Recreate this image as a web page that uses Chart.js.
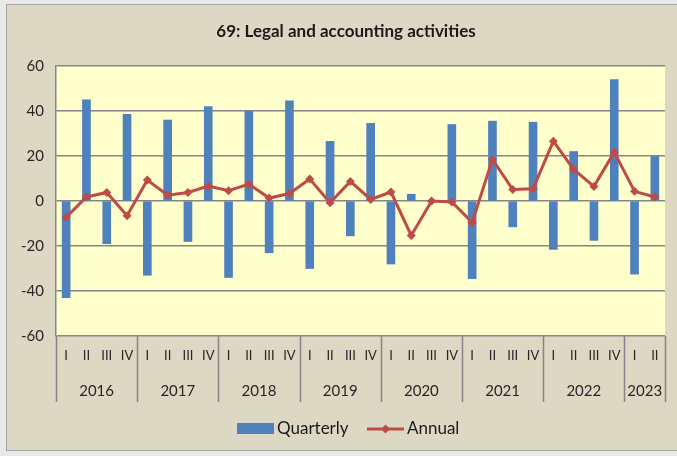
<!DOCTYPE html>
<html>
<head>
<meta charset="utf-8">
<script src="https://cdn.jsdelivr.net/npm/chart.js@4/dist/chart.umd.min.js"></script>
<style>
  html, body { margin: 0; padding: 0; background: #e9e9e9; }
  #wrap { width: 677px; height: 456px; position: relative; }
</style>
</head>
<body>
<div id="wrap"><canvas id="c" width="677" height="456"></canvas></div>
<script>
const years = ["2016", "2017", "2018", "2019", "2020", "2021", "2022", "2023"];
const quarterNames = ["I", "II", "III", "IV"];
const quarterly = [
  -43, 45, -19, 38.5,
  -33, 36, -18, 42,
  -34, 40, -23, 44.5,
  -30, 26.5, -15.5, 34.5,
  -28, 3, 0, 34,
  -34.5, 35.5, -11.5, 35,
  -21.5, 22, -17.5, 54,
  -32.5, 19.8
];
const annual = [
  -7.2, 1.8, 3.8, -6.5,
  9.3, 2.6, 3.8, 6.6,
  4.6, 7.5, 1.3, 3.3,
  9.8, -0.8, 8.7, 0.7,
  4, -15.3, 0, -0.4,
  -9.5, 18.5, 5.1, 5.4,
  26.6, 14, 6.5, 21.7,
  4.3, 1.8
];
const title = "69: Legal and accounting activities";
const seriesNames = ["Quarterly", "Annual"];

// build category list (quarter label, year)
const labels = [];
const yearOf = [];
for (let i = 0; i < quarterly.length; i++) {
  labels.push(quarterNames[i % 4]);
  yearOf.push(years[Math.floor(i / 4)]);
}

const FONT = "Lato, 'Open Sans', sans-serif";
const BAR = "#4F81BD";
const LINE = "#BE4B48";
const GRID = "#868686";

const decor = {
  id: "decor",
  beforeDraw(chart) {
    const ctx = chart.ctx;
    ctx.save();
    ctx.fillStyle = "#ddd8c4";
    ctx.fillRect(6, 4, 680, 447);
    ctx.strokeStyle = "#a5a5a5";
    ctx.lineWidth = 1;
    ctx.strokeRect(6.5, 4.5, 680, 446);
    const a = chart.chartArea;
    ctx.fillStyle = "#ffffcc";
    ctx.fillRect(a.left, a.top, a.right - a.left, a.bottom - a.top);
    ctx.restore();
  },
  afterDraw(chart) {
    const ctx = chart.ctx;
    const a = chart.chartArea;
    const xs = chart.scales.x;
    ctx.save();
    // title
    ctx.fillStyle = "#1a1a1a";
    ctx.font = "bold 17px " + FONT;
    ctx.textAlign = "center";
    ctx.textBaseline = "middle";
    ctx.fillText(title, 346, 32);

    // year separators and labels
    const half = (xs.getPixelForValue(1) - xs.getPixelForValue(0)) / 2;
    ctx.strokeStyle = GRID;
    ctx.lineWidth = 1.5;
    const bounds = [];
    for (let i = 0; i <= labels.length; i += 4) bounds.push(i);
    if (bounds[bounds.length - 1] !== labels.length) bounds.push(labels.length);
    bounds.forEach(idx => {
      const x = Math.round(xs.getPixelForValue(0) - half + idx * 2 * half) + 0.5;
      ctx.beginPath();
      ctx.moveTo(x, a.bottom);
      ctx.lineTo(x, 402);
      ctx.stroke();
    });
    ctx.fillStyle = "#262626";
    ctx.font = "15px " + FONT;
    for (let b = 0; b < bounds.length - 1; b++) {
      const s = bounds[b], e = bounds[b + 1];
      const x0 = xs.getPixelForValue(s) - half;
      const x1 = xs.getPixelForValue(e - 1) + half;
      ctx.fillText(yearOf[s], (x0 + x1) / 2, 391);
    }

    // legend
    const ly = 429;
    ctx.fillStyle = BAR;
    ctx.fillRect(237, ly - 6, 37, 11);
    ctx.fillStyle = "#1a1a1a";
    ctx.font = "17px " + FONT;
    ctx.textAlign = "left";
    ctx.fillText(seriesNames[0], 277, ly);
    ctx.strokeStyle = LINE;
    ctx.lineWidth = 3;
    ctx.beginPath();
    ctx.moveTo(367, ly);
    ctx.lineTo(404, ly);
    ctx.stroke();
    ctx.fillStyle = LINE;
    ctx.beginPath();
    ctx.moveTo(385.5, ly - 4.5);
    ctx.lineTo(390, ly);
    ctx.lineTo(385.5, ly + 4.5);
    ctx.lineTo(381, ly);
    ctx.closePath();
    ctx.fill();
    ctx.fillStyle = "#1a1a1a";
    ctx.fillText(seriesNames[1], 407, ly);
    ctx.restore();
  }
};

new Chart(document.getElementById("c"), {
  data: {
    labels: labels,
    datasets: [
      {
        type: "line",
        label: seriesNames[1],
        data: annual,
        borderColor: LINE,
        backgroundColor: LINE,
        borderWidth: 3,
        pointStyle: "rectRot",
        pointRadius: 4.5,
        pointBorderWidth: 0,
        tension: 0,
        order: 1
      },
      {
        type: "bar",
        label: seriesNames[0],
        data: quarterly,
        backgroundColor: BAR,
        barThickness: 8,
        order: 2
      }
    ]
  },
  plugins: [decor],
  options: {
    responsive: false,
    animation: false,
    events: [],
    layout: { padding: { left: 6, right: 12, top: 66, bottom: 50 } },
    plugins: {
      legend: { display: false },
      title: { display: false },
      tooltip: { enabled: false }
    },
    scales: {
      y: {
        min: -60,
        max: 60,
        ticks: {
          stepSize: 20,
          color: "#262626",
          font: { family: FONT, size: 15 },
          padding: 12
        },
        grid: { color: GRID, lineWidth: 1.4, drawTicks: false },
        border: { color: GRID, width: 1.5 },
        afterFit(s) { s.width = 50; }
      },
      x: {
        ticks: {
          color: "#262626",
          font: { family: FONT, size: 13 },
          padding: 12,
          maxRotation: 0,
          autoSkip: false
        },
        grid: { display: false, drawTicks: false },
        border: { display: false },
        afterFit(s) { s.height = 70; }
      }
    }
  }
});
</script>
</body>
</html>
